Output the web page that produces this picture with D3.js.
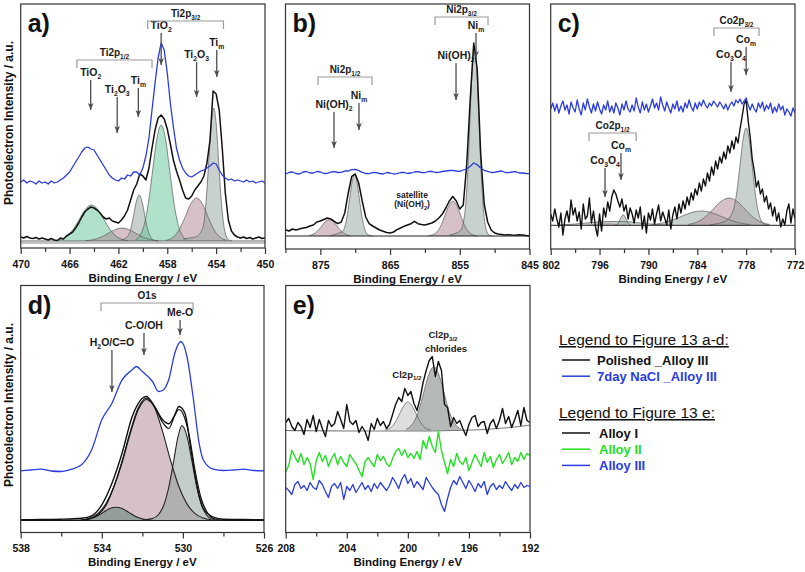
<!DOCTYPE html>
<html><head><meta charset="utf-8">
<script src="https://cdn.jsdelivr.net/npm/d3@7"></script>
<style>body{margin:0;background:#fff;}</style>
</head><body><script>
// ======================= DATA =======================
// Panel a) Ti2p, evenly spaced spectra 470 -> 450 eV, step 0.25
const aStart = 470, aStep = -0.25;
const aPolished = [11,10,11.5,10,9.5,10.5,9,10,9,8, 9.5,8,7.5,10,9,12,14,16,20,25,
 31,36,39,41,40,38,35,31,29,30, 27,26,25,28,32,38,48,58,64,74,
 72,68,80,100,118,130,133,129,119,104, 88,77,68,58,50,49,52,58,62,66,
 72,85,108,157,154,138,100,55,28,17, 13,11,10,11,9.5,10.5,9,10,11,9.5, 10];
const aNaCl = [66,68,65,67,66,64,67,65,66,64, 67,65,66,68,70,73,76,81,86,91,
 96,100,101,99,98,93,88,83,78,73, 70,68,67,70,69,73,72,76,76,73,
 80,92,110,138,165,190,205,198,175,145, 121,100,88,80,75,72,71,73,75,77,
 78,80,82,85,84,78,73,70,68,69, 67,68,67,66,68,66,67,65,66,67, 65];
const aTiO2_12 = [[467.2,7.4],[466.7,8.6],[466.2,11.9],[465.7,18.7],[465.2,28.8],[464.7,38.8],[464.2,43],[463.7,38.8],[463.2,28.8],[462.7,18.7],[462.2,11.9],[461.7,8.6],[461.2,7.4]];
const aTi2O3_12 = [[464.7,7.3],[464.2,8],[463.7,9.5],[463.2,12.2],[462.7,15.6],[462.2,18.7],[461.7,20],[461.2,18.7],[460.7,15.6],[460.2,12.2],[459.7,9.5],[459.2,8],[458.7,7.3]];
const aTim_12 = [[461.8,8],[461.3,11],[461.05,16.3],[460.8,29.6],[460.55,45.5],[460.3,53],[460.05,45.5],[459.8,29.6],[459.55,16.3],[459.3,9.7],[459.05,7.5],[458.8,7]];
const aTiO2_32 = [[460.6,8.3],[460.25,12.1],[459.9,22.7],[459.55,44.7],[459.2,77.4],[458.85,109.4],[458.5,123],[458.15,109.4],[457.8,77.4],[457.45,44.7],[457.1,22.7],[456.75,12.1],[456.4,8.3]];
const aTi2O3_32 = [[458.1,7.7],[457.6,10.1],[457.1,16.7],[456.6,29.2],[456.1,43.5],[455.6,50],[455.1,43.5],[454.6,29.2],[454.1,16.7],[453.6,10.1],[453.1,7.7]];
const aTim_32 = [[456.7,9],[456.2,10],[455.7,11],[455.2,17],[455.0,25],[454.8,50],[454.6,87.7],[454.4,124.4],[454.2,140],[454.0,124.4],[453.8,87.7],[453.6,50.2],[453.4,25],[453.2,12.8],[453.0,8.5],[452.7,7]];
const aBase = 7, aFrameLine = 5;
const aArrows = [
 {label:"TiO_2", e:458.5, v0:215, v1:183},
 {label:"Ti_2O_3", e:455.6, v0:186, v1:151},
 {label:"Ti_m", e:453.95, v0:198, v1:171},
 {label:"TiO_2", e:464.27, v0:168, v1:138},
 {label:"Ti_2O_3", e:462.1, v0:151, v1:115},
 {label:"Ti_m", e:460.37, v0:160, v1:131}];
const aBrackets = [{label:"Ti2p_{3/2}", e1:459.6, e2:453.4, v:227},{label:"Ti2p_{1/2}", e1:465.4, e2:459.25, v:188}];

// Panel b) Ni2p, 880 -> 845 eV, step 0.5
const bStart = 880, bStep = -0.5;
const bPolished = [19.3,18,20,19,20,21,21.5,23,24,27, 28,29.5,31,30,27.7,25.3,27,36,56,72.7,
 75,66,48,32,25.3,23,21,19,17.7,16.5, 16,17,19.3,21,22.7,24,25.3,27.7,25.3,24.5,
 24,25,26,28,31,35,41,48,52.5,48, 40,44,85,150,206,180,95,45,27,19,
 16,15,14.5,14,14.3,14,13.8,14.2,14,13.5, 13.3];
const bNaCl = [75,76.5,77,75.5,75,77,77.5,76,76,77.5, 77,75.5,75.7,77,77.3,76.5,76.7,78,78,79.3,
 79.7,78.3,76.7,75.5,75.3,76.5,76.3,75.5,75,76.5, 76,75,75.3,76.5,76.7,75.5,76,77,77.3,76.5,
 76.3,77.5,77.7,76.5,76.7,77.5,78,78.5,78.7,78, 77.7,79,80,82.7,86,84.3,81,78.7,77.7,76.5,
 76.7,77.5,78,76.5,76.3,77,77.3,76,76,75.5, 75.3];
const bNiOH_12 = [[876.7,13.4],[876.2,14.2],[875.7,16.1],[875.2,19.4],[874.7,23.8],[874.2,28],[873.7,29.3],[873.2,28],[872.7,23.8],[872.2,19.4],[871.7,16.1],[871.2,14.2],[870.7,13.4]];
const bNim_12 = [[873.5,13.5],[872.9,14.5],[872.2,16.5],[871.85,17.5],[871.5,22],[871.15,33],[870.8,50.2],[870.45,67.1],[870.1,74.3],[869.75,67.1],[869.4,50.2],[869.05,32.9],[868.7,21.3],[868.35,15.7],[868,13.7],[867.5,13]];
const bNiOH_32 = [[859.5,13.3],[859,13.85],[858.5,15.6],[858,19.6],[857.5,26.6],[857,36],[856.5,44.3],[856,47.7],[855.5,44.3],[855,36],[854.5,26.6],[854,19.6],[853.5,15.6],[853,13.85],[852.5,13.3]];
const bNim_32 = [[856.5,14],[855.5,16],[855,18],[854.7,21],[854.4,30],[854.1,49],[853.8,85.7],[853.5,136.9],[853.2,183.5],[852.9,202.7],[852.6,183.5],[852.3,136.9],[852,85.7],[851.7,47.5],[851.4,26.3],[851.1,17.1],[850.8,14],[850.3,13]];
const bBase = 13;
const bArrows = [
 {label:"Ni_m", e:852.67, v0:216, v1:191},
 {label:"Ni(OH)_2", e:855.54, v0:186, v1:149},
 {label:"Ni_m", e:869.46, v0:146, v1:119},
 {label:"Ni(OH)_2", e:873.04, v0:137, v1:101}];
const bBrackets = [{label:"Ni2p_{3/2}", e1:858.55, e2:850.95, v:232},{label:"Ni2p_{1/2}", e1:875.34, e2:867.59, v:172}];
const bLabels = [{label:"satellite", e:861.85, v:51},{label:"(Ni(OH)_2)", e:861.85, v:42}];

// Panel c) Co2p, 802 -> 772 eV, step 0.25
const cStart = 802, cStep = -0.25;
const cPolished = [35,28,40,30,22,36,14,30,38,27, 49,34,41,28,37,20,45,30,33,51,
 26,38,22,13,35,18,41,32,47,38, 52,59,55,48,42,50,38,44,30,41,
 35,26,39,31,42,20,33,16,36,29, 40,25,35,44,28,37,31,24,39,20,
 34,42,30,45,36,48,40,52,44,56, 49,60,54,66,58,70,63,76,68,82,
 74,88,80,92,86,97,90,103,96,108, 100,112,106,120,132,145,149,128,112,90,
 78,62,68,55,60,47,53,40,46,33, 42,28,36,22,30,24,38,45,26,40, 30];
const cNaCl = [140,146,138,145,136,143,148,139,144,135, 147,141,137,149,140,134,146,139,150,142,
 136,145,138,147,140,135,144,139,148,137, 143,136,146,141,134,145,139,148,140,137,
 144,138,151,142,136,147,139,145,137,143, 150,141,146,139,152,144,138,147,141,136,
 145,140,148,138,143,137,146,141,149,142, 138,146,140,147,143,149,144,141,146,143,
 148,145,142,147,144,140,145,139,144,147, 143,149,146,150,145,148,151,144,139,145,
 140,137,146,141,147,138,144,140,146,136, 142,137,145,139,143,134,140,137,133,141, 136];
const cBroad_12 = [[801,23.9],[799,25],[797,26.5],[795,27.5],[793,27.5],[791,26],[789,24.5],[787,23.9]];
const cCo3O4_12 = [[798,23.8],[796.5,25.2],[795.3,26.2],[794,25.2],[792.5,23.8]];
const cCom_12 = [[794.1,23.9],[793.7,26],[793.4,31],[793.1,34.3],[792.8,31],[792.5,26],[792.1,23.9]];
const cSat_32 = [[789.5,24.5],[788.5,25.6],[787.5,27.7],[786.5,30.7],[785.5,34.1],[784.5,36.9],[783.5,38],[782.5,36.9],[781.5,34.1],[780.5,30.7],[779.5,27.7],[778.5,25.6],[777.5,24.5]];
const cCo3O4_32 = [[785.1,24.6],[784.1,26.7],[783.1,31.5],[782.1,39.4],[781.1,47.5],[780.1,51],[779.1,47.5],[778.1,39.4],[777.1,31.5],[776.1,26.7],[775.1,24.6]];
const cCom_32 = [[782.5,24],[781.5,25.5],[780.5,28],[780,32],[779.5,41],[779.125,58],[778.75,84],[778.375,109.6],[778,121],[777.625,109.6],[777.25,82.7],[776.875,55.3],[776.5,36.9],[776.125,28],[775.75,24.8],[775.3,23.9]];
const cBase = 23.7;
const cArrows = [
 {label:"Co_m", e:778.0, v0:202, v1:174},
 {label:"Co_3O_4", e:779.86, v0:187, v1:157},
 {label:"Co_m", e:793.37, v0:96, v1:69},
 {label:"Co_3O_4", e:795.33, v0:81, v1:52}];
const cBrackets = [{label:"Co2p_{3/2}", e1:781.95, e2:776.42, v:221},{label:"Co2p_{1/2}", e1:797.3, e2:791.5, v:116}];

// Panel d) O1s
const dNaCl = [[538,61.7],[537.5,62.5],[537,63.3],[536.5,61.5],[536,61],[535.5,63.3],[535,67.7],[534.5,82.7],[534,112.7],[533.5,129.3],[533,152.7],[532.5,162.7],[532.3,166],[532,161],[531.5,151],[531.2,141],[531,142],[530.7,152.7],[530.4,179.3],[530.1,191],[529.8,176],[529.5,136],[529.2,89.3],[529,72.7],[528.5,63.3],[528,62],[527.5,62.5],[527,63.3],[526.5,62],[526,61.7]];
const dPolished = [[538,12.7],[537,13],[536,13.3],[535,14.3],[534.5,16.7],[534,27.7],[533.5,49.3],[533,79.3],[532.5,116],[532,134.3],[531.8,136],[531.5,129.3],[531,112.7],[530.7,108.7],[530.4,117.7],[530.2,126],[529.9,119.3],[529.6,82.7],[529.3,46],[529,24.3],[528.5,15.3],[528,13.3],[527,13],[526,12.7]];
const dFit = [[538,12],[535,12.3],[534.6,13.6],[534.2,17.8],[533.8,27],[533.4,46],[533,70],[532.6,99],[532.2,123],[531.8,133],[531.4,126],[531,110],[530.7,104],[530.4,117],[530.2,123],[530,119],[529.7,98],[529.4,62],[529.1,34],[528.8,20],[528.5,14],[528,12.3],[526,12]];
const dH2O = [[535.1,12.2],[534.8,12.8],[534.5,14.2],[534.2,16.8],[533.9,20.5],[533.6,23.9],[533.3,25.3],[533,23.9],[532.7,20.5],[532.4,16.8],[532.1,14.2],[531.8,12.8],[531.5,12.2]];
const dCO = [[535,12.7],[534.6,14.4],[534.2,18.9],[533.8,28.6],[533.4,46],[533,71.5],[532.6,100.8],[532.2,124.9],[531.8,134.3],[531.4,124.9],[531,100.8],[530.6,71.5],[530.2,46],[529.8,28.6],[529.4,18.9],[529,14.4],[528.6,12.7]];
const dMeO = [[532,12.5],[531.5,14],[531.2,18],[530.95,27],[530.7,45],[530.45,72],[530.25,95],[530.05,107],[529.8,96.3],[529.55,70.8],[529.3,44.2],[529.05,25.9],[528.8,16.7],[528.55,13.2],[528.3,12.3]];
const dBase = 12;
const dArrows = [
 {label:"Me-O", e:530.14, v0:212.5, v1:197.5},
 {label:"C-O/OH", e:531.92, v0:199.5, v1:177.5},
 {label:"H_2O/C=O", e:533.5, v0:182.5, v1:140.5}];
const dBrackets = [{label:"O1s", e1:534.04, e2:529.5, v:229.5}];

// Panel e) Cl2p, 208 -> 192 eV, step 0.2
const eStart = 208, eStep = -0.2;
const eAlloy1 = [110,114,106,102,110,106,98,113,105,117, 101,113,104,96,112,106,109,121,113,104,
 128,111,108,112,100,106,101,92,109,103, 114,107,111,104,108,118,128,135,131,144,
 137,141,129,122,134,150,162,172,176,156, 171,162,128,125,106,115,109,112,104,97,
 108,115,117,106,110,111,99,109,113,104, 112,124,109,116,105,113,122,107,125,112, 110];
const eAlloy2 = [61,67,82,76,70,79,68,75,69,53, 72,80,71,77,66,74,79,68,76,70,
 66,78,73,69,62,56,71,75,70,66, 78,72,76,69,66,74,81,84,77,83,
 75,79,74,81,73,92,84,96,86,80, 101,82,70,59,73,66,79,71,68,75,
 62,70,78,72,66,80,70,76,65,73, 78,69,74,80,68,75,71,80,73,79, 77];
const eAlloy3 = [45,42,38,48,51,44,47,42,50,45, 43,52,48,41,35,46,49,44,50,33,
 46,42,48,40,45,50,43,47,41,49, 44,50,46,42,47,55,50,44,53,58,
 49,54,45,51,47,43,55,50,45,41, 38,28,21,34,45,52,48,56,50,44,
 52,47,41,49,45,51,38,46,49,43, 47,44,51,46,42,48,44,50,45,47, 46];
const eBaseline = [[208,102],[204,101.5],[200,101.5],[197,102],[195,103],[193,105.5],[192,107.5]];
const eCl12 = [[201.5,102.5],[201.1,105],[200.8,111],[200.5,120],[200.25,127],[200,130.7],[199.75,127],[199.5,120],[199.2,111],[198.9,105],[198.5,102.5]];
const eCl32 = [[200.1,103.4],[199.8,106.5],[199.5,113.6],[199.2,126.4],[198.9,143.6],[198.6,159.2],[198.3,165.7],[198,159.2],[197.7,143.6],[197.4,126.4],[197.1,113.6],[196.8,106.5],[196.5,103.4]];
const eBase = 102;
const eLabels = [{label:"Cl2p_{3/2}", e:197.7, v:194.5},{label:"chlorides", e:197.5, v:181},{label:"Cl2p_{1/2}", e:200.06, v:155}];

// ticks
const aMajor=[470,466,462,458,454,450], aMinor=[468,464,460,456,452];
const bMajor=[875,865,855,845], bMinor=[880,870,860,850];
const cMajor=[802,796,790,784,778,772], cMinor=[799,793,787,781,775];
const dMajor=[538,534,530,526], dMinor=[536,532,528];
const eMajor=[208,204,200,196,192], eMinor=[206,202,198,194];

// legend
const legendAD = [{label:"Polished _Alloy III", color:"#111111"},{label:"7day NaCl _Alloy III", color:"#2a3ce0"}];
const legendE = [{label:"Alloy I", color:"#111111"},{label:"Alloy II", color:"#22e022"},{label:"Alloy III", color:"#2a3ce0"}];

// ======================= DRAWING =======================
const FONT = '"Liberation Sans", Arial, Helvetica, sans-serif';
const BLACK="#111111", BLUE="#2a3ce0", GREENL="#22e022";
const GREEN="#5fc497", PINK="#ad8494", GRAY="#93a39d", TEAL="#4f7c70";
const series = (start, step, vals) => vals.map((v,i)=>[start+i*step, v]);

const svg = d3.select("body").append("svg").attr("width",805).attr("height",572)
  .attr("font-family",FONT);
const defs = svg.append("defs");
defs.append("marker").attr("id","ah").attr("markerUnits","userSpaceOnUse")
  .attr("viewBox","0 0 10 10").attr("refX",10).attr("refY",5)
  .attr("markerWidth",7).attr("markerHeight",7).attr("orient","auto")
  .append("path").attr("d","M0,1 L10,5 L0,9 L2.5,5 Z").attr("fill","#4d4d4d");

function rich(sel, str, fs){
  const re=/_\{([^}]*)\}|_(.)/g; let last=0,m,parts=[];
  while((m=re.exec(str))){ if(m.index>last) parts.push({t:str.slice(last,m.index),sub:false});
    parts.push({t:m[1]||m[2],sub:true}); last=re.lastIndex; }
  if(last<str.length) parts.push({t:str.slice(last),sub:false});
  let sh=false;
  parts.forEach(p=>{ const ts=sel.append("tspan").text(p.t);
    if(p.sub){ ts.attr("font-size",fs*0.65); if(!sh){ts.attr("dy",fs*0.3); sh=true;} }
    else { ts.attr("font-size",fs); if(sh){ts.attr("dy",-fs*0.3); sh=false;} } });
}

function makePanel(cfg){
  const g = svg.append("g");
  const x = d3.scaleLinear().domain(cfg.domain).range([cfg.left,cfg.right]);
  const y = d3.scaleLinear().domain([0,cfg.bottom-cfg.top]).range([cfg.bottom,cfg.top]);
  const id="clip_"+cfg.name;
  defs.append("clipPath").attr("id",id).append("rect")
    .attr("x",cfg.left).attr("y",cfg.top).attr("width",cfg.right-cfg.left).attr("height",cfg.bottom-cfg.top);
  const plot = g.append("g").attr("clip-path",`url(#${id})`);
  return {g,plot,x,y,cfg};
}
function comp(p, data, base, color, op){
  const area = d3.area().x(d=>p.x(d[0])).y0(p.y(base)).y1(d=>p.y(d[1])).curve(d3.curveMonotoneX);
  p.plot.append("path").datum(data).attr("d",area).attr("fill",color).attr("fill-opacity",op);
}
function compLine(p, data){
  const ln = d3.line().x(d=>p.x(d[0])).y(d=>p.y(d[1])).curve(d3.curveMonotoneX);
  p.plot.append("path").datum(data).attr("d",ln).attr("fill","none").attr("stroke","#5a5a5a").attr("stroke-width",0.7);
}
function spec(p, data, color, w, smooth){
  const ln = d3.line().x(d=>p.x(d[0])).y(d=>p.y(d[1])).curve(smooth?d3.curveMonotoneX:d3.curveLinear);
  p.plot.append("path").datum(data).attr("d",ln).attr("fill","none").attr("stroke",color)
    .attr("stroke-width",w).attr("stroke-linejoin","round");
}
function hline(p, v, color, w){
  p.plot.append("line").attr("x1",p.cfg.left).attr("x2",p.cfg.right).attr("y1",p.y(v)).attr("y2",p.y(v))
   .attr("stroke",color).attr("stroke-width",w);
}
function arrows(p, list, fs){
  list.forEach(a=>{
    const xx=p.x(a.e);
    p.g.append("line").attr("x1",xx).attr("x2",xx).attr("y1",p.y(a.v0)).attr("y2",p.y(a.v1))
      .attr("stroke","#4d4d4d").attr("stroke-width",1.3).attr("marker-end","url(#ah)");
    const t=p.g.append("text").attr("x",xx).attr("y",p.y(a.v0)-4).attr("text-anchor","middle")
      .attr("font-weight","bold").attr("fill","#1a1a1a");
    rich(t,a.label,fs);
  });
}
function brackets(p, list, fs){
  list.forEach(b=>{
    const x1=p.x(b.e1), x2=p.x(b.e2), yy=p.y(b.v);
    p.g.append("path").attr("d",`M${x1},${yy+8}V${yy}H${x2}V${yy+8}`).attr("fill","none")
      .attr("stroke","#9a9a9a").attr("stroke-width",1.2);
    const t=p.g.append("text").attr("x",(x1+x2)/2).attr("y",yy-4).attr("text-anchor","middle")
      .attr("font-weight","bold").attr("fill","#1a1a1a");
    rich(t,b.label,fs);
  });
}
function labels(p, list, fs){
  list.forEach(l=>{
    const t=p.g.append("text").attr("x",p.x(l.e)).attr("y",p.y(l.v)).attr("text-anchor","middle")
      .attr("font-weight","bold").attr("fill","#1a1a1a");
    rich(t,l.label,fs);
  });
}
function finish(p, major, minor, letter, letterY){
  const c=p.cfg;
  const ax=p.g.append("g").attr("transform",`translate(0,${c.bottom})`)
    .call(d3.axisBottom(p.x).tickValues(major).tickSize(6).tickPadding(6.5).tickFormat(d3.format("d")));
  ax.select(".domain").remove();
  ax.selectAll("line").attr("stroke","#333").attr("stroke-width",1.2);
  ax.selectAll("text").attr("font-size",10.5).attr("font-weight","bold").attr("font-family",FONT).attr("fill","#111");
  const mi=p.g.append("g").attr("transform",`translate(0,${c.bottom})`)
    .call(d3.axisBottom(p.x).tickValues(minor).tickSize(4).tickFormat(()=>""));
  mi.select(".domain").remove();
  mi.selectAll("line").attr("stroke","#333").attr("stroke-width",1.2);
  p.g.append("rect").attr("x",c.left).attr("y",c.top).attr("width",c.right-c.left).attr("height",c.bottom-c.top)
    .attr("fill","none").attr("stroke","#333").attr("stroke-width",1.2);
  p.g.append("text").attr("x",(c.left+c.right)/2).attr("y",c.bottom+33.5).attr("text-anchor","middle")
    .attr("font-size",11.5).attr("font-weight","bold").attr("fill","#111").text("Binding Energy / eV");
  p.g.append("text").attr("x",c.left+7).attr("y",letterY).attr("font-size",25).attr("font-weight","bold")
    .attr("fill","#111").text(letter);
}

// ---- Panel a
const pa = makePanel({name:"a",left:20.7,right:265,top:4,bottom:248,domain:[470,450]});
[[aTiO2_12,GREEN],[aTi2O3_12,PINK],[aTim_12,GRAY],[aTiO2_32,GREEN],[aTi2O3_32,PINK],[aTim_32,GRAY]]
  .forEach(([d,c])=>comp(pa,d,aBase,c,0.5));
[aTiO2_12,aTi2O3_12,aTim_12,aTiO2_32,aTi2O3_32,aTim_32].forEach(d=>compLine(pa,d));
hline(pa,aBase,"#555",0.9); hline(pa,aFrameLine,"#888",1);
spec(pa,series(aStart,aStep,aPolished),BLACK,1.5,false);
spec(pa,series(aStart,aStep,aNaCl),BLUE,1.3,false);
finish(pa,aMajor,aMinor,"a)",31.5);
arrows(pa,aArrows,10.5); brackets(pa,aBrackets,10);

// ---- Panel b
const pb = makePanel({name:"b",left:285.5,right:529.5,top:4,bottom:249,domain:[880,845]});
[[bNiOH_12,PINK],[bNim_12,GRAY],[bNiOH_32,PINK],[bNim_32,GRAY]].forEach(([d,c])=>comp(pb,d,bBase,c,0.5));
[bNiOH_12,bNim_12,bNiOH_32,bNim_32].forEach(d=>compLine(pb,d));
hline(pb,bBase,"#222",1);
spec(pb,series(bStart,bStep,bPolished),BLACK,1.5,false);
spec(pb,series(bStart,bStep,bNaCl),BLUE,1.3,false);
finish(pb,bMajor,bMinor,"b)",31.5);
arrows(pb,bArrows,10.5); brackets(pb,bBrackets,10); labels(pb,bLabels,8.5);

// ---- Panel c
const pc = makePanel({name:"c",left:550.7,right:795,top:4,bottom:249,domain:[802,772]});
[[cBroad_12,GRAY],[cCo3O4_12,PINK],[cCom_12,GRAY],[cSat_32,GRAY],[cCo3O4_32,PINK],[cCom_32,GRAY]]
  .forEach(([d,c])=>comp(pc,d,cBase,c,0.5));
[cBroad_12,cCom_12,cSat_32,cCo3O4_32,cCom_32].forEach(d=>compLine(pc,d));
hline(pc,cBase,"#222",1);
spec(pc,series(cStart,cStep,cPolished),BLACK,1.4,false);
spec(pc,series(cStart,cStep,cNaCl),BLUE,1.3,false);
finish(pc,cMajor,cMinor,"c)",31.5);
arrows(pc,cArrows,10.5); brackets(pc,cBrackets,10);

// ---- Panel d
const pd = makePanel({name:"d",left:20.7,right:264,top:285.5,bottom:532.5,domain:[538,526]});
comp(pd,dCO,dBase,PINK,0.5); comp(pd,dMeO,dBase,GRAY,0.55); comp(pd,dH2O,dBase,TEAL,0.5);
[dCO,dMeO,dH2O].forEach(d=>{
  const ln=d3.line().x(q=>pd.x(q[0])).y(q=>pd.y(q[1])).curve(d3.curveMonotoneX);
  pd.plot.append("path").datum(d).attr("d",ln).attr("fill","none").attr("stroke","#222").attr("stroke-width",1.1);});
hline(pd,dBase,"#222",1.1);
spec(pd,dFit,BLACK,1.2,true);
spec(pd,dPolished,BLACK,1.4,true);
spec(pd,dNaCl,BLUE,1.3,true);
finish(pd,dMajor,dMinor,"d)",314);
arrows(pd,dArrows,10.5); brackets(pd,dBrackets,10);

// ---- Panel e
const pe = makePanel({name:"e",left:285.7,right:530,top:285.5,bottom:532.5,domain:[208,192]});
comp(pe,eCl12,eBase,"#dedede",1); comp(pe,eCl32,eBase,"#a8adab",0.85);
compLine(pe,eCl12); compLine(pe,eCl32);
spec(pe,eBaseline,"#777",1.1,true);
spec(pe,series(eStart,eStep,eAlloy1),BLACK,1.4,false);
spec(pe,series(eStart,eStep,eAlloy2),GREENL,1.4,false);
spec(pe,series(eStart,eStep,eAlloy3),BLUE,1.3,false);
finish(pe,eMajor,eMinor,"e)",314);
labels(pe,eLabels,9.5);

// ---- y-axis titles
[[13,123],[13,405]].forEach(([xx,yy])=>{
  svg.append("text").attr("transform",`translate(${xx},${yy}) rotate(-90)`).attr("text-anchor","middle")
    .attr("font-size",12).attr("font-weight","bold").attr("fill","#111").text("Photoelectron Intensity / a.u.");
});

// ---- legend
function legendBlock(title, titleY, items, y0, textX){
  svg.append("text").attr("x",559).attr("y",titleY).attr("font-size",15.5).attr("fill","#111")
    .attr("text-decoration","underline").text(title);
  items.forEach((it,i)=>{
    const yy=y0+i*16.2;
    svg.append("line").attr("x1",562).attr("x2",590).attr("y1",yy).attr("y2",yy).attr("stroke",it.color).attr("stroke-width",1.5);
    svg.append("text").attr("x",textX).attr("y",yy+4.7).attr("font-size",13).attr("font-weight","bold")
      .attr("fill",it.color).text(it.label);
  });
}
legendBlock("Legend to Figure 13 a-d:",345,legendAD,360,597);
legendBlock("Legend to Figure 13 e:",418,legendE,433,599);
</script></body></html>
